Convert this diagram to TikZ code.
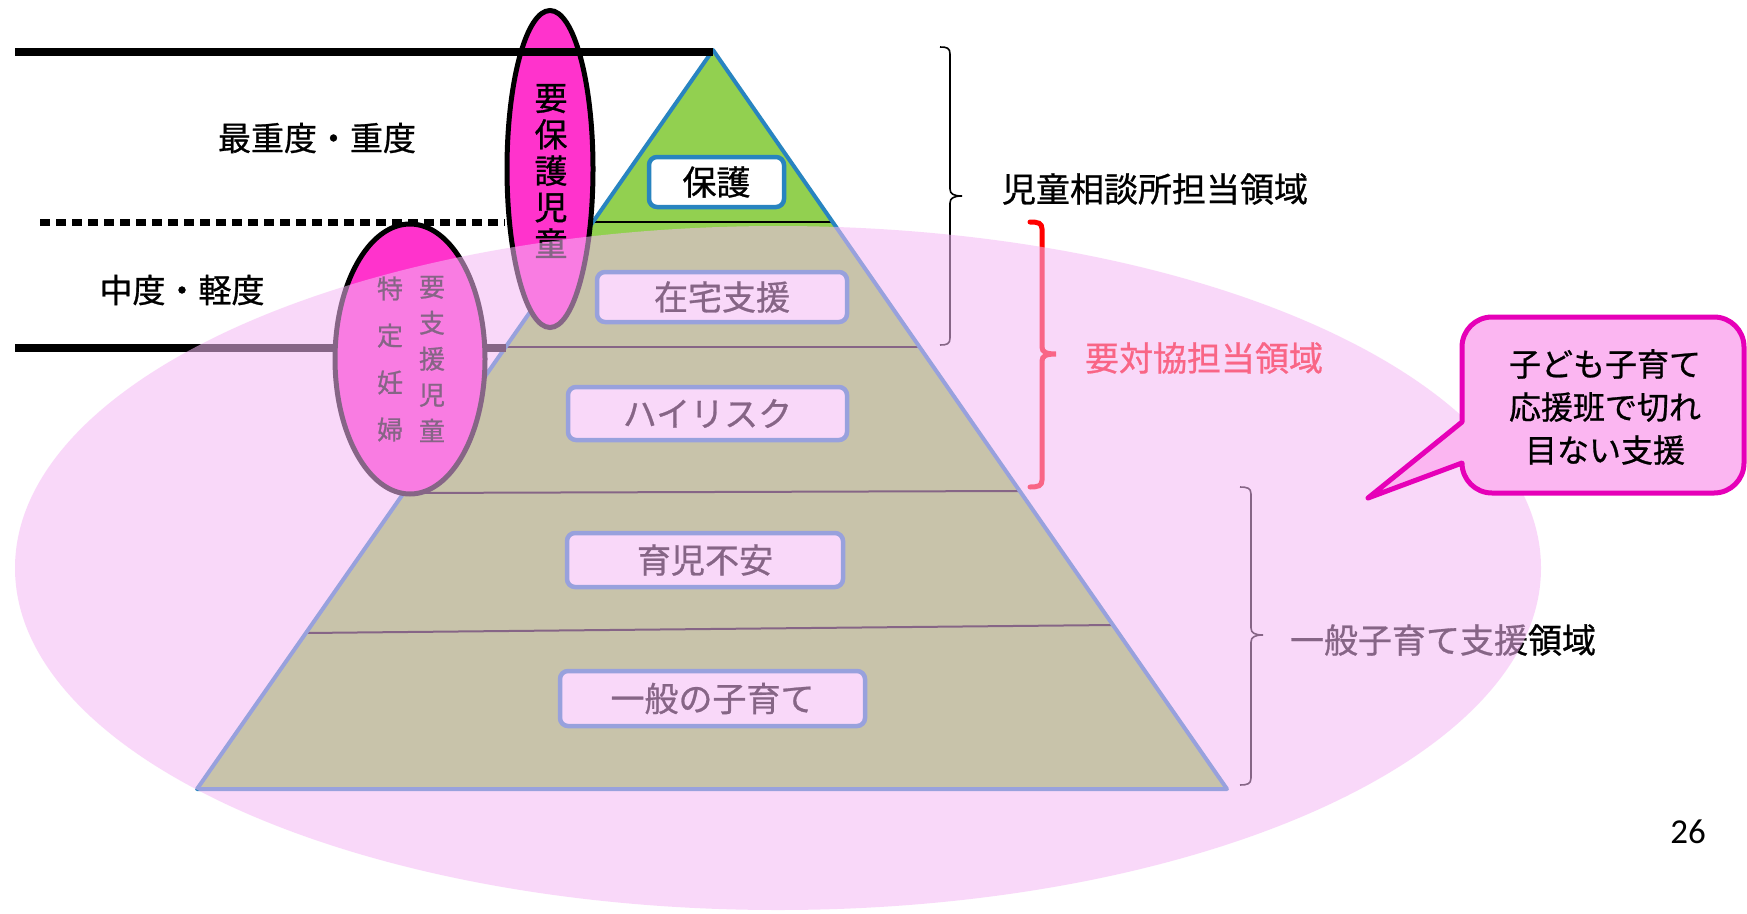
\documentclass[tikz,border=0pt]{standalone}
\usepackage{fontspec}
\setmainfont{Noto Sans CJK JP}[FakeBold=0.8]
\newfontfamily\numfont{Carlito}
\usetikzlibrary{shapes.geometric}
\definecolor{pyrgreen}{RGB}{146,208,80}
\definecolor{pyrblue}{RGB}{40,132,192}
\definecolor{ovpink}{RGB}{245,185,245}
\definecolor{hotpink}{RGB}{255,51,204}
\definecolor{calloutline}{RGB}{230,0,184}
\definecolor{calloutfill}{RGB}{251,182,241}
\begin{document}
\begin{tikzpicture}[x=1pt,y=-1pt,
  lvlbox/.style={draw=pyrblue, line width=4.5pt, fill=white, rounded corners=8pt, inner sep=0pt, font=\fontsize{34}{40}\selectfont},
  tagellipse/.style={ellipse, draw=black, line width=5pt, fill=hotpink, inner sep=0pt},
  sevlabel/.style={font=\fontsize{33}{40}\selectfont, inner sep=0pt},
  arealabel/.style={font=\fontsize{34}{40}\selectfont, inner sep=0pt},
  layerline/.style={black, line width=2pt},
  thickline/.style={black, line width=8pt},
  bracketline/.style={line width=1.6pt, black},
]
\useasboundingbox (0,0) rectangle (1747,913);
\clip (0,0) rectangle (1747,913);
\fill[white] (0,0) rectangle (1747,913);

% pyramid
\coordinate (apex) at (713,50);
\coordinate (bl) at (197,789);
\coordinate (br) at (1227,789);
\fill[pyrgreen] (apex) -- (br) -- (bl) -- cycle;
\draw[layerline] (593,222) -- (833,222);
\draw[layerline] (506,347) -- (920,347);
\draw[layerline] (404,493) -- (1020,491);
\draw[layerline] (306,633) -- (1113,625);
\draw[pyrblue, line width=4pt, line join=round] (apex) -- (br) -- (bl) -- cycle;

% level boxes
\node[lvlbox, minimum width=135pt, minimum height=50pt] (hogo) at (716.5,182) {保護};
\node[lvlbox, minimum width=250pt, minimum height=50pt] (zaitaku) at (722,297) {在宅支援};
\node[lvlbox, minimum width=279pt, minimum height=53pt] (highrisk) at (707.5,413.5) {ハイリスク};
\node[lvlbox, minimum width=276pt, minimum height=54pt] (ikuji) at (705,560) {育児不安};
\node[lvlbox, minimum width=305pt, minimum height=55pt] (ippan) at (712.5,698.5) {一般の子育て};

% lower thick line
\coordinate (lowL) at (15,348);
\coordinate (lowR) at (506,348);
\draw[thickline] (lowL) -- (lowR);

% tokutei ellipse
\node[tagellipse, minimum width=150pt, minimum height=270pt] (tokutei) at (410,359) {};
\node[inner sep=0pt, align=center, font=\fontsize{26}{47}\selectfont] (tokuteitext) at (390,359) {特\\定\\妊\\婦};
\node[inner sep=0pt, align=center, font=\fontsize{26}{36}\selectfont] (yoshientext) at (432,359) {要\\支\\援\\児\\童};

% dashed line
\coordinate (dashL) at (40,222);
\coordinate (dashR) at (505,222);
\draw[black, line width=7pt, dash pattern=on 10pt off 6pt] (dashL) -- (dashR);

% yohogo ellipse
\node[tagellipse, minimum width=86pt, minimum height=317pt] (yohogo) at (550,169) {};
\node[inner sep=0pt, align=center, font=\fontsize{33}{36.4}\selectfont] (yohogotext) at (551,171) {要\\保\\護\\児\\童};

% top thick line
\coordinate (topL) at (15,52);
\draw[thickline] (topL) -- (apex |- topL);

% severity labels
\node[sevlabel] (sev1) at (317,138) {最重度・重度};
\node[sevlabel] (sev2) at (182,290) {中度・軽度};

% brackets
\draw[bracketline] (940,47) .. controls (947,47) and (950,48) .. (950,54) -- (950,189) .. controls (950,194) and (954,196) .. (962,196) .. controls (954,196) and (950,198) .. (950,203) -- (950,338) .. controls (950,344) and (947,345) .. (940,345);
\draw[red, line width=5pt, line cap=round] (1030,222) .. controls (1038,222) and (1042,223) .. (1042,229) -- (1042,347) .. controls (1042,352) and (1046,354) .. (1056,354) .. controls (1046,354) and (1042,356) .. (1042,361) -- (1042,480) .. controls (1042,486) and (1038,487) .. (1030,487);
\draw[bracketline] (1240,487) .. controls (1247,487) and (1251,488) .. (1251,494) -- (1251,628) .. controls (1251,633) and (1255,635) .. (1263,635) .. controls (1255,635) and (1251,637) .. (1251,642) -- (1251,778) .. controls (1251,784) and (1247,785) .. (1240,785);

% area labels
\node[arealabel] (jidou) at (1155,189) {児童相談所担当領域};
\node[arealabel, text=red] (youtaikyou) at (1204,358) {要対協担当領域};
\node[arealabel] (ippanshien) at (1443,640) {一般子育て支援領域};

% translucent overlay ellipse
\fill[ovpink, opacity=.55] (778,568) ellipse [x radius=763pt, y radius=342pt];

% callout
\draw[calloutline, fill=calloutfill, line width=5pt, line join=round]
  (1462,422) -- (1368,498) -- (1462,463)
  .. controls (1462,479.6) and (1475.4,493) .. (1492,493) -- (1714,493)
  .. controls (1730.6,493) and (1744,479.6) .. (1744,463) -- (1744,347)
  .. controls (1744,330.4) and (1730.6,317) .. (1714,317) -- (1492,317)
  .. controls (1475.4,317) and (1462,330.4) .. (1462,347) -- cycle;
\node[inner sep=0pt, align=center, font=\fontsize{32}{43}\selectfont] (callouttext) at (1605,407) {子ども子育て\\応援班で切れ\\目ない支援};

% page number
\node[inner sep=0pt, font=\numfont\fontsize{35}{40}\selectfont] (pagenum) at (1688,832) {26};
\end{tikzpicture}
\end{document}
